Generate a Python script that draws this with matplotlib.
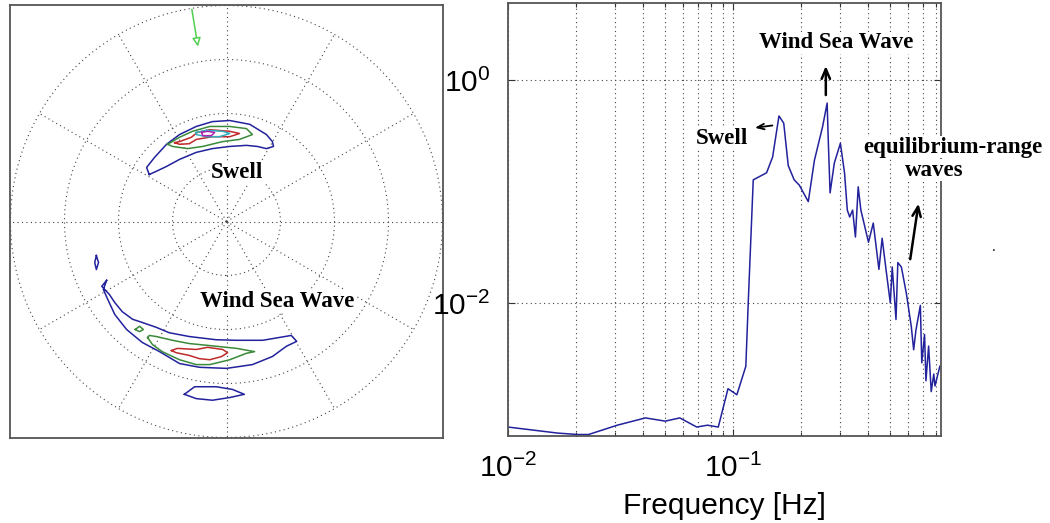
"""
Directional wave spectrum (left) and 1-D frequency spectrum (right).
"""
import numpy as np
import matplotlib
matplotlib.use('Agg')
import matplotlib.pyplot as plt
from matplotlib.patches import Circle
from matplotlib.ticker import FixedLocator, LogLocator, NullFormatter, NullLocator

plt.rcParams['font.family'] = ['Liberation Sans', 'DejaVu Sans']
plt.rcParams['mathtext.fontset'] = 'custom'
plt.rcParams['mathtext.rm'] = 'Liberation Sans'
plt.rcParams['mathtext.default'] = 'regular'

# ---- frequency spectrum (Hz, energy) ----
freq = [0.0100, 0.0166, 0.0204, 0.0228, 0.0306, 0.0408, 0.050, 0.058, 0.069, 0.077,
        0.086, 0.095, 0.104, 0.114, 0.117, 0.123, 0.141, 0.150, 0.160, 0.168,
        0.176, 0.187, 0.197, 0.216, 0.230, 0.250, 0.262, 0.265, 0.270, 0.282,
        0.300, 0.313, 0.322, 0.330, 0.340, 0.350, 0.360, 0.370, 0.400, 0.420,
        0.445, 0.460, 0.480, 0.500, 0.510, 0.530, 0.540, 0.560, 0.590, 0.620,
        0.635, 0.650, 0.680, 0.690, 0.710, 0.720, 0.740, 0.760, 0.780, 0.790,
        0.830]
energy = [7.7e-4, 6.8e-4, 6.6e-4, 6.6e-4, 8.0e-4, 9.3e-4, 8.7e-4, 9.3e-4, 7.7e-4, 8.0e-4,
          7.7e-4, 1.7e-3, 1.5e-3, 2.7e-3, 1.07e-2, 0.127, 0.147, 0.204, 0.475, 0.41,
          0.17, 0.127, 0.114, 0.081, 0.19, 0.38, 0.62, 0.29, 0.097, 0.18,
          0.27, 0.147, 0.068, 0.059, 0.068, 0.039, 0.11, 0.068, 0.035, 0.052,
          0.020, 0.038, 0.019, 0.010, 0.021, 0.0071, 0.023, 0.021, 0.012, 0.0061,
          0.0038, 0.0057, 0.0095, 0.0029, 0.0052, 0.0020, 0.0041, 0.0016, 0.0023, 0.0018,
          0.0027]

# ---- directional spectrum contours (east, north; one unit per ring) ----
swell_1_x = [-1.43, -1.48, -1.33, -1.11, -0.87, -0.56, -0.26, 0.06, 0.43, 0.74, 0.85,
             0.87, 0.74, 0.57, 0.37, 0.06, -0.26, -0.56, -0.87, -1.11, -1.30]
swell_1_y = [0.87, 1.00, 1.19, 1.43, 1.61, 1.76, 1.85, 1.87, 1.80, 1.61, 1.48,
             1.39, 1.35, 1.39, 1.41, 1.39, 1.35, 1.28, 1.15, 1.02, 0.93]
swell_2_x = [-1.09, -0.87, -0.63, -0.31, 0.06, 0.37, 0.48, 0.24, -0.07, -0.44, -0.72, -1.00]
swell_2_y = [1.43, 1.56, 1.67, 1.76, 1.76, 1.72, 1.61, 1.52, 1.48, 1.39, 1.35, 1.39]
swell_3_x = [-0.96, -0.87, -0.65, -0.54, -0.31, 0.06, 0.24, 0.06, -0.26, -0.56, -0.69, -0.87]
swell_3_y = [1.46, 1.48, 1.56, 1.65, 1.70, 1.67, 1.63, 1.57, 1.57, 1.52, 1.44, 1.43]
swell_4_x = [-0.56, -0.37, -0.07, 0.06, -0.13, -0.37, -0.56]
swell_4_y = [1.65, 1.69, 1.67, 1.63, 1.57, 1.57, 1.61]
swell_5_x = [-0.46, -0.35, -0.22, -0.28, -0.44]
swell_5_y = [1.65, 1.67, 1.65, 1.59, 1.59]

wind_1_x = [-2.22, -2.31, -2.17, -2.07, -1.93, -1.74, -1.56, -1.30, -1.06, -0.69, -0.19,
            0.19, 0.67, 1.20, 1.30, 1.11, 0.85, 0.48, 0.00, -0.50, -0.87, -1.24,
            -1.56, -1.85, -2.07, -2.20, -2.28]
wind_1_y = [-1.09, -1.20, -1.35, -1.50, -1.67, -1.81, -1.87, -1.96, -2.06, -2.13, -2.19,
            -2.20, -2.20, -2.11, -2.22, -2.31, -2.50, -2.65, -2.72, -2.70, -2.63, -2.41,
            -2.24, -2.00, -1.72, -1.44, -1.26]
wind_2_x = [-1.46, -1.43, -1.30, -1.00, -0.69, -0.19, 0.19, 0.52, 0.37, 0.06, -0.31,
            -0.56, -0.87, -1.19, -1.37]
wind_2_y = [-2.15, -2.11, -2.13, -2.20, -2.26, -2.31, -2.35, -2.41, -2.44, -2.56, -2.65,
            -2.65, -2.56, -2.41, -2.28]
wind_3_x = [-1.02, -0.91, -0.56, -0.35, -0.07, 0.02, -0.09, -0.31, -0.50, -0.69, -0.93]
wind_3_y = [-2.39, -2.35, -2.37, -2.33, -2.37, -2.43, -2.50, -2.56, -2.54, -2.48, -2.43]
blob_x = [-0.78, -0.59, -0.19, 0.11, 0.33, 0.06, -0.26, -0.56]
blob_y = [-3.20, -3.06, -3.06, -3.11, -3.20, -3.26, -3.31, -3.28]
speck_1_x = [-2.41, -2.37, -2.41, -2.44]
speck_1_y = [-0.63, -0.76, -0.89, -0.76]
speck_2_x = [-1.69, -1.61, -1.54, -1.61]
speck_2_y = [-2.00, -1.94, -2.00, -2.04]

wind_dir_x = [-0.65, -0.52]
wind_dir_y = [3.98, 3.19]

BLUE = '#22229c'
GREEN = '#3a8a3a'
RED = '#c02a2a'
CYAN = '#30b0c0'
MAGENTA = '#b020b0'
GRID = dict(color='#444444', linestyle=(0, (1, 3)), linewidth=0.8)

contours = [
    (swell_1_x, swell_1_y, BLUE), (swell_2_x, swell_2_y, GREEN),
    (swell_3_x, swell_3_y, RED), (swell_4_x, swell_4_y, CYAN),
    (swell_5_x, swell_5_y, MAGENTA),
    (wind_1_x, wind_1_y, BLUE), (wind_2_x, wind_2_y, GREEN),
    (wind_3_x, wind_3_y, RED), (blob_x, blob_y, BLUE),
    (speck_1_x, speck_1_y, BLUE), (speck_2_x, speck_2_y, GREEN),
]

fig = plt.figure(figsize=(10.5, 5.23), dpi=100)

# ---- left: directional spectrum ----
ax1 = fig.add_axes([10 / 1050, 85 / 523, 433 / 1050, 433 / 523])
lim = 216.5 / 54
ax1.set_xlim(-lim, lim)
ax1.set_ylim(-lim, lim)
ax1.set_xticks([])
ax1.set_yticks([])
for sp in ax1.spines.values():
    sp.set_color('#555555')
    sp.set_linewidth(1.3)

for r in [1, 2, 3, 4]:
    ax1.add_patch(Circle((0, 0), r, fill=False, **GRID))
for ang in np.arange(0, 360, 30):
    a = np.deg2rad(ang)
    end = lim if ang % 90 == 0 else 4
    ax1.plot([0, end * np.sin(a)], [0, end * np.cos(a)], **GRID)

for cx, cy, col in contours:
    ax1.plot(list(cx) + [cx[0]], list(cy) + [cy[0]], color=col, lw=1.1)

ax1.annotate('', xy=(wind_dir_x[1], wind_dir_y[1]), xytext=(wind_dir_x[0], wind_dir_y[0]),
             arrowprops=dict(arrowstyle='-|>,head_length=0.5,head_width=0.25',
                             ec='#50d050', fc='white', lw=1.1))

txt_style = dict(fontfamily='Liberation Serif', fontweight='bold', fontsize=16.5,
                 ha='center', va='center',
                 bbox=dict(facecolor='white', edgecolor='none', pad=0.5))
ax1.text(0.20, 0.91, 'Swell', **txt_style)
ax1.text(0.94, -1.48, 'Wind Sea Wave', **txt_style)

# ---- right: frequency spectrum ----
ax2 = fig.add_axes([508 / 1050, 87 / 523, 433 / 1050, 433 / 523])
ax2.loglog(freq, energy, color=BLUE, lw=1.1)
ax2.set_xlim(0.01, 0.84)
ax2.set_ylim(6.4e-4, 4.9)

ax2.xaxis.set_major_locator(FixedLocator([0.01, 0.1]))
ax2.xaxis.set_minor_locator(LogLocator(base=10, subs=np.arange(2, 10)))
ax2.xaxis.set_minor_formatter(NullFormatter())
ax2.set_xticks([0.01, 0.1], ['$10^{-2}$', '$10^{-1}$'])
ax2.yaxis.set_major_locator(FixedLocator([1e-2, 1e0]))
ax2.yaxis.set_minor_locator(NullLocator())
ax2.set_yticks([1e-2, 1e0], ['$10^{-2}$', '$10^{0}$'])

ax2.grid(True, which='major', **GRID)
ax2.grid(True, which='minor', axis='x', **GRID)
ax2.tick_params(which='both', direction='in', top=True, right=True,
                labelsize=21.5, length=5, width=0.8, color='#333333')
ax2.tick_params(axis='x', which='major', pad=13)
ax2.tick_params(axis='y', which='major', pad=13)
ax2.tick_params(which='minor', length=3)
for sp in ax2.spines.values():
    sp.set_color('#555555')
    sp.set_linewidth(1.3)
ax2.set_xlabel('Frequency [Hz]', fontsize=21.5, labelpad=6)

ax2.text(0.757, 0.908, 'Wind Sea Wave', transform=ax2.transAxes, **txt_style)
ax2.text(0.554, 0.688, 'Swell', transform=ax2.transAxes,
         **{**txt_style, 'ha': 'right'})
ax2.text(1.028, 0.667, 'equilibrium-range', transform=ax2.transAxes, clip_on=False,
         **txt_style)
ax2.text(0.984, 0.614, 'waves', transform=ax2.transAxes, clip_on=False, **txt_style)

arrow_big = dict(arrowstyle='->,head_length=0.7,head_width=0.3', color='black', lw=1.8)
ax2.annotate('', xy=(0.734, 0.861), xytext=(0.734, 0.781),
             xycoords='axes fraction', arrowprops=arrow_big)
ax2.annotate('', xy=(0.564, 0.711), xytext=(0.617, 0.718),
             xycoords='axes fraction',
             arrowprops=dict(arrowstyle='->,head_length=0.5,head_width=0.2',
                             color='black', lw=1.3))
ax2.annotate('', xy=(0.949, 0.543), xytext=(0.928, 0.402),
             xycoords='axes fraction', arrowprops=arrow_big, annotation_clip=False)
fig.text(994 / 1050, 1 - 254 / 523, '.', fontsize=10, ha='center', va='bottom')

fig.savefig('out.png', dpi=100)
